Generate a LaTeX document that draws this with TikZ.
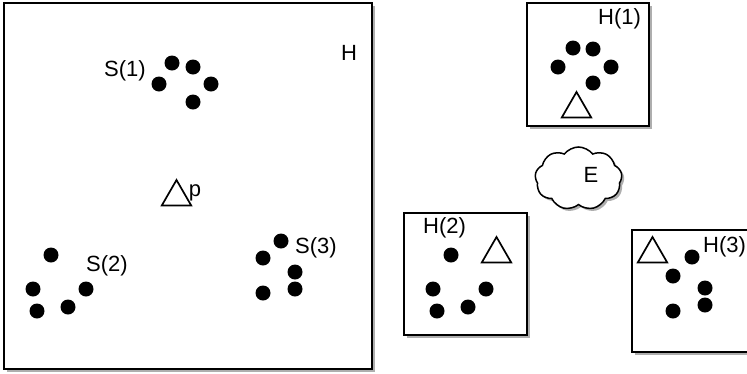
\documentclass[tikz,border=0pt]{standalone}
\usepackage{fontspec}
\setmainfont{Liberation Sans}
\usetikzlibrary{shapes.geometric,shapes.symbols,shadows}
\begin{document}
\begin{tikzpicture}[x=1pt,y=-1pt,
  frame/.style={draw,line width=1.5pt,fill=white,inner sep=0pt,
    drop shadow={shadow xshift=2.5pt,shadow yshift=-2.5pt,opacity=0.45,fill=black!70}},
  dot/.style={circle,fill=black,inner sep=0pt,minimum size=15pt},
  tri/.style={regular polygon,regular polygon sides=3,draw,line width=1.7pt,inner sep=0pt,minimum size=34pt},
  lbl/.style={inner sep=0pt,font=\fontsize{22}{24}\selectfont}]
\useasboundingbox (0,0) rectangle (747,373);
\clip (0,0) rectangle (747,373);
% big box H
\node[frame,minimum width=368pt,minimum height=366pt] (H) at (188,186) {};
\node[lbl] (Hl) at (349,53) {H};
\node[lbl] (S1l) at (125,70.5) {S(1)};
\node[dot] (a1) at (172,63) {};
\node[dot] (a2) at (193,67) {};
\node[dot] (a3) at (159,84) {};
\node[dot] (a4) at (211,84) {};
\node[dot] (a5) at (193,102) {};
\node[tri] (tp) at (176.5,197) {};
\node[lbl] (pl) at (195,192.5) {p};
\node[dot] (b1) at (51,255) {};
\node[dot] (b2) at (33,289) {};
\node[dot] (b3) at (86,289) {};
\node[dot] (b4) at (37,311) {};
\node[dot] (b5) at (68,307) {};
\node[lbl] (S2l) at (107,265.5) {S(2)};
\node[dot] (c1) at (281,241) {};
\node[dot] (c2) at (263,258) {};
\node[dot] (c3) at (295,272) {};
\node[dot] (c4) at (263,293) {};
\node[dot] (c5) at (295,289) {};
\node[lbl] (S3l) at (316,247.5) {S(3)};
% H(1)
\node[frame,minimum width=122pt,minimum height=123pt] (H1) at (588,64.5) {};
\node[lbl] (H1l) at (619.5,19) {H(1)};
\node[dot] (d1) at (573,48) {};
\node[dot] (d2) at (593,49) {};
\node[dot] (d3) at (558,67) {};
\node[dot] (d4) at (611,67) {};
\node[dot] (d5) at (593,83) {};
\node[tri] (t1) at (576.5,109) {};
% cloud E
\node[cloud,cloud puffs=9,cloud puff arc=105,aspect=1.4,draw,line width=1.5pt,fill=white,
  minimum width=87pt,minimum height=63pt,inner sep=0pt,
  drop shadow={shadow xshift=2.5pt,shadow yshift=-2.5pt,opacity=0.45,fill=black!70}] (E) at (578.5,178.5) {};
\node[lbl] (El) at (591,175) {E};
% H(2)
\node[frame,minimum width=123pt,minimum height=122pt] (H2) at (465.5,274) {};
\node[lbl] (H2l) at (444.5,228) {H(2)};
\node[dot] (e1) at (451,255) {};
\node[dot] (e2) at (433,289) {};
\node[dot] (e3) at (486,289) {};
\node[dot] (e4) at (437,311) {};
\node[dot] (e5) at (468,307) {};
\node[tri] (t2) at (496.5,254) {};
% H(3)
\node[frame,minimum width=122pt,minimum height=122pt] (H3) at (693,291) {};
\node[lbl] (H3l) at (724.5,247) {H(3)};
\node[dot] (f1) at (692,257) {};
\node[dot] (f2) at (673,276) {};
\node[dot] (f3) at (705,288) {};
\node[dot] (f4) at (673,311) {};
\node[dot] (f5) at (705,305) {};
\node[tri] (t3) at (652.5,254) {};
\end{tikzpicture}
\end{document}
